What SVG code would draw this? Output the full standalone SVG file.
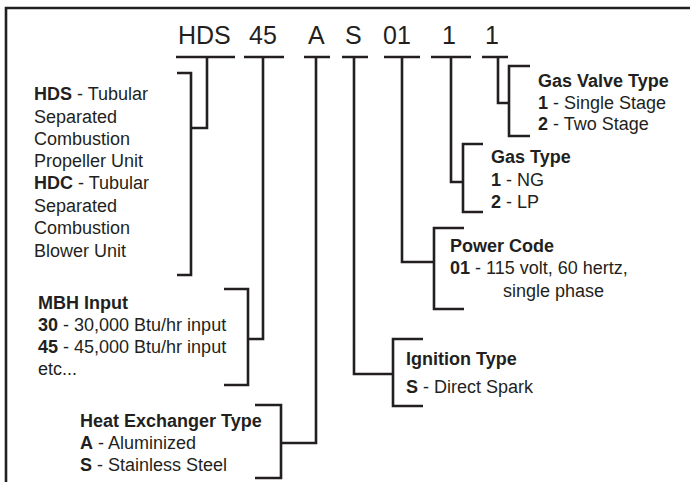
<svg xmlns="http://www.w3.org/2000/svg" width="690" height="482" viewBox="0 0 690 482">
<style>
text{font-family:"Liberation Sans",Arial,Helvetica,sans-serif;fill:#231f20;font-size:18px}
.h{font-size:25px}
.b{font-weight:bold}
.ln{fill:none;stroke:#231f20;stroke-width:2.6}
</style>
<rect width="690" height="482" fill="#fff"/>
<g id="frame"><path class="ln" d="M6 482 V8 H690" stroke-width="3"/></g>
<g id="code">
<text class="h" x="178" y="44">HDS</text>
<text class="h" x="249" y="44">45</text>
<text class="h" x="308" y="44">A</text>
<text class="h" x="345" y="44">S</text>
<text class="h" x="383" y="44">01</text>
<text class="h" x="442" y="44">1</text>
<text class="h" x="485" y="44">1</text>
</g>
<g id="connectors">
<path class="ln" d="M176 57 H235 M207 57 V128 H191 M177 73 H191 V275 H177"/>
<path class="ln" d="M244 57 H284 M263 57 V339 H248 M224 289 H248 V385 H224"/>
<path class="ln" d="M304 57 H330 M316 57 V443 H281 M255 405 H281 V478 H255"/>
<path class="ln" d="M342 57 H368 M354 57 V374 H393 M423 339 H393 V406 H423"/>
<path class="ln" d="M384 57 H420 M402 57 V262 H434 M464 228 H434 V309 H464"/>
<path class="ln" d="M431 57 H471 M451 57 V182 H463 M483 144 H463 V212 H483"/>
<path class="ln" d="M482 57 H508 M498 57 V103 H509 M530 66 H509 V136 H530"/>
</g>
<g id="unit-type">
<text x="34" y="100"><tspan class="b">HDS</tspan> - Tubular</text>
<text x="34" y="123">Separated</text>
<text x="34" y="145">Combustion</text>
<text x="34" y="167">Propeller Unit</text>
<text x="34" y="189"><tspan class="b">HDC</tspan> - Tubular</text>
<text x="34" y="212">Separated</text>
<text x="34" y="234">Combustion</text>
<text x="34" y="257">Blower Unit</text>
</g>
<g id="mbh-input">
<text x="38" y="309" class="b">MBH Input</text>
<text x="38" y="331"><tspan class="b">30</tspan> - 30,000 Btu/hr input</text>
<text x="38" y="353"><tspan class="b">45</tspan> - 45,000 Btu/hr input</text>
<text x="38" y="375">etc...</text>
</g>
<g id="heat-exchanger">
<text x="80" y="427" class="b">Heat Exchanger Type</text>
<text x="80" y="449"><tspan class="b">A</tspan> - Aluminized</text>
<text x="80" y="471"><tspan class="b">S</tspan> - Stainless Steel</text>
</g>
<g id="ignition">
<text x="406" y="365" class="b">Ignition Type</text>
<text x="406" y="393"><tspan class="b">S</tspan> - Direct Spark</text>
</g>
<g id="power-code">
<text x="450" y="252" class="b">Power Code</text>
<text x="450" y="274"><tspan class="b">01</tspan> - 115 volt, 60 hertz,</text>
<text x="503" y="297">single phase</text>
</g>
<g id="gas-type">
<text x="491" y="163" class="b">Gas Type</text>
<text x="491" y="186"><tspan class="b">1</tspan> - NG</text>
<text x="491" y="208"><tspan class="b">2</tspan> - LP</text>
</g>
<g id="gas-valve">
<text x="538" y="87" class="b">Gas Valve Type</text>
<text x="538" y="109"><tspan class="b">1</tspan> - Single Stage</text>
<text x="538" y="130"><tspan class="b">2</tspan> - Two Stage</text>
</g>
</svg>
